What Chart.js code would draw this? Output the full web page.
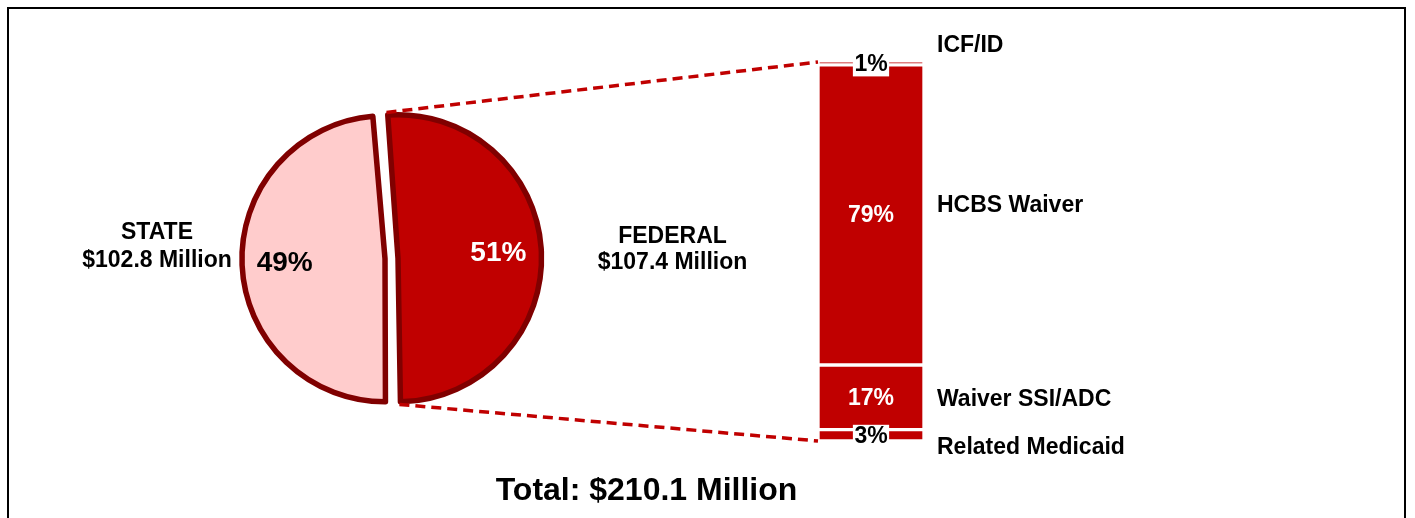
<!DOCTYPE html>
<html><head><meta charset="utf-8">
<script src="https://cdn.jsdelivr.net/npm/chart.js@4.4.1/dist/chart.umd.min.js"></script>
<style>
html,body{margin:0;padding:0;background:#fff;}
#wrap{position:relative;width:1415px;height:518px;overflow:hidden;background:#fff;}
#frame{position:absolute;left:7px;top:7px;width:1399px;height:600px;border:2px solid #000;box-sizing:border-box;}
canvas{position:absolute;left:0;top:0;}
</style></head><body>
<div id="wrap"><div id="frame"></div>
<canvas id="pie" width="1415" height="518"></canvas>
<canvas id="bar" width="1415" height="518"></canvas>
</div>
<script>
// ---- data ----
const pieLabels = ['FEDERAL', 'STATE'];
const pieAmounts = [107.4, 102.8];      // $ million
const piePercents = [51, 49];
const totalAmount = 210.1;              // $ million
const barCategories = ['Related Medicaid', 'Waiver SSI/ADC', 'HCBS Waiver', 'ICF/ID'];
const barPercents = [3, 17, 79, 1];

// ---- styling / layout constants ----
const RED = '#C00000', DARK = '#800000', PINK = '#FFCCCC';
const FONT = '"Liberation Sans", Arial, Helvetica, sans-serif';
const outerLabelDx = [281, -234.5];   // pie side labels, from pie centre
const outerLabelDy = [-22, -26];
const outerLineGap = [26, 28];
const catNudge = [12.7, 2, -9, -17.5];

const pieLabelPlugin = {
  id: 'pieLabels',
  afterDatasetsDraw(chart) {
    const ctx = chart.ctx;
    const meta = chart.getDatasetMeta(0);
    ctx.save();
    ctx.textAlign = 'center';
    ctx.textBaseline = 'middle';
    meta.data.forEach((el, i) => {
      const off = (el.options.offset || 0) / 4;
      const mid = (el.startAngle + el.endAngle) / 2;
      const lr = (el.outerRadius + off) * 0.7 + off;
      ctx.font = 'bold 28px ' + FONT;
      ctx.fillStyle = i === 0 ? '#FFFFFF' : '#000000';
      ctx.fillText(piePercents[i] + '%', el.x + Math.cos(mid) * lr, el.y + Math.sin(mid) * lr);
      ctx.font = 'bold 23px ' + FONT;
      ctx.fillStyle = '#000000';
      const cx = el.x + outerLabelDx[i], cy = el.y + outerLabelDy[i];
      ctx.fillText(pieLabels[i], cx, cy);
      ctx.fillText('$' + pieAmounts[i].toFixed(1) + ' Million', cx, cy + outerLineGap[i]);
    });
    ctx.font = 'bold 32px ' + FONT;
    ctx.fillStyle = '#000000';
    ctx.fillText('Total: $' + totalAmount.toFixed(1) + ' Million', 646.5, 491);
    ctx.restore();
  }
};

const pieChart = new Chart(document.getElementById('pie'), {
  type: 'pie',
  data: {
    labels: pieLabels,
    datasets: [{
      data: pieAmounts,
      backgroundColor: [RED, PINK],
      borderColor: DARK,
      borderWidth: 5.5,
      borderJoinStyle: 'round',
      offset: 26,
      hoverOffset: 0,
      rotation: -4.5,
      radius: 137
    }]
  },
  options: {
    responsive: false,
    animation: false,
    events: [],
    rotation: -4.5,
    radius: 137,
    layout: { padding: { left: 241, right: 873, top: 116, bottom: 117 } },
    plugins: { legend: { display: false }, tooltip: { enabled: false } }
  },
  plugins: [pieLabelPlugin]
});

const barLabelPlugin = {
  id: 'barLabels',
  afterDatasetsDraw(chart) {
    const ctx = chart.ctx;
    const area = chart.chartArea;
    ctx.save();
    // dashed connector lines from the federal slice to the bar
    const arc = pieChart.getDatasetMeta(0).data[0];
    const off = (arc.options.offset || 0) / 4;
    const mid = (arc.startAngle + arc.endAngle) / 2;
    const R = arc.outerRadius + off + arc.options.borderWidth / 2;
    const ox = arc.x + Math.cos(mid) * off, oy = arc.y + Math.sin(mid) * off;
    const p1 = [ox + Math.cos(arc.startAngle) * R, oy + Math.sin(arc.startAngle) * R];
    const p2 = [ox + Math.cos(arc.endAngle) * R, oy + Math.sin(arc.endAngle) * R];
    ctx.strokeStyle = RED;
    ctx.lineWidth = 3.5;
    ctx.setLineDash([10, 6]);
    ctx.beginPath();
    ctx.moveTo(p1[0], p1[1]); ctx.lineTo(area.left, area.top + 1);
    ctx.moveTo(p2[0], p2[1]); ctx.lineTo(area.left, area.bottom);
    ctx.stroke();
    ctx.setLineDash([]);
    // segment labels
    ctx.textBaseline = 'middle';
    ctx.font = 'bold 23px ' + FONT;
    chart.data.datasets.forEach((ds, i) => {
      const el = chart.getDatasetMeta(i).data[0];
      const cy = (el.y + el.base) / 2;
      const cx = el.x;
      const txt = barPercents[i] + '%';
      const h = Math.abs(el.base - el.y);
      ctx.textAlign = 'center';
      if (h < 24) {
        const w = ctx.measureText(txt).width + 3;
        ctx.fillStyle = '#FFFFFF';
        ctx.fillRect(cx - w / 2, cy + 1.5 - 12, w, 24);
        ctx.fillStyle = '#000000';
        ctx.fillText(txt, cx, cy + 1.5);
      } else {
        ctx.fillStyle = '#FFFFFF';
        ctx.fillText(txt, cx, cy + 1);
      }
      ctx.textAlign = 'left';
      ctx.fillStyle = '#000000';
      ctx.fillText(barCategories[i], area.right + 13, cy + catNudge[i]);
    });
    ctx.restore();
  }
};

new Chart(document.getElementById('bar'), {
  type: 'bar',
  data: {
    labels: ['Federal'],
    datasets: barCategories.map((c, i) => ({
      label: c,
      data: [barPercents[i]],
      backgroundColor: RED,
      borderColor: '#FFFFFF',
      borderWidth: 2,
      borderSkipped: false,
      barPercentage: 1,
      categoryPercentage: 1
    }))
  },
  options: {
    responsive: false,
    animation: false,
    events: [],
    layout: { padding: { left: 818, right: 1415 - 924, top: 61, bottom: 518 - 441 } },
    scales: {
      x: { display: false, stacked: true },
      y: { display: false, stacked: true, min: 0, max: 100 }
    },
    plugins: { legend: { display: false }, tooltip: { enabled: false } }
  },
  plugins: [barLabelPlugin]
});
</script>
</body></html>
